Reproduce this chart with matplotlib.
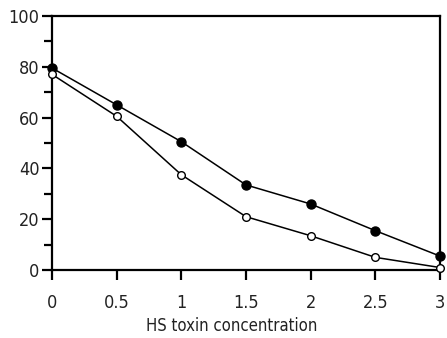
import matplotlib
matplotlib.use("Agg")
import matplotlib.pyplot as plt
from matplotlib.ticker import MultipleLocator

conc = [0, 0.5, 1, 1.5, 2, 2.5, 3]
filled = [79.5, 65, 50.5, 33.5, 26, 15.5, 5.5]
open_ = [77, 60.5, 37.5, 21, 13.5, 5, 1]
xticks = [0, 0.5, 1, 1.5, 2, 2.5, 3]
xticklabels = ["0", "0.5", "1", "1.5", "2", "2.5", "3"]

plt.rcParams['font.family'] = ['DejaVu Sans']
plt.rcParams['font.stretch'] = 'condensed'
txt = '#222222'

fig = plt.figure(figsize=(4.47, 3.38), dpi=100)
ax = fig.add_axes([0.1163, 0.201, 0.868, 0.752])

ax.plot(conc, filled, color='black', lw=1.1, marker='o', markersize=6.5,
        markerfacecolor='black', markeredgecolor='black', clip_on=False, zorder=3)
ax.plot(conc, open_, color='black', lw=1.1, marker='o', markersize=5.5,
        markerfacecolor='white', markeredgecolor='black', clip_on=False, zorder=3)

ax.set_xlim(0, 3)
ax.set_ylim(0, 100)
ax.set_xticks(xticks)
ax.set_xticklabels(xticklabels)
ax.yaxis.set_major_locator(MultipleLocator(20))
ax.yaxis.set_minor_locator(MultipleLocator(10))
for s in ax.spines.values():
    s.set_linewidth(1.6)
ax.tick_params(axis='both', which='major', direction='out', length=7, width=1.6,
               labelsize=13, pad=2, top=False, right=False, labelcolor=txt)
ax.tick_params(axis='y', which='minor', direction='out', length=6, width=1.6)
ax.tick_params(axis='x', pad=10)
ax.set_xlabel("HS toxin concentration", fontsize=12, labelpad=4, color=txt)
ax.xaxis.label.set_x(0.464)

fig.savefig("out.png", dpi=100)
